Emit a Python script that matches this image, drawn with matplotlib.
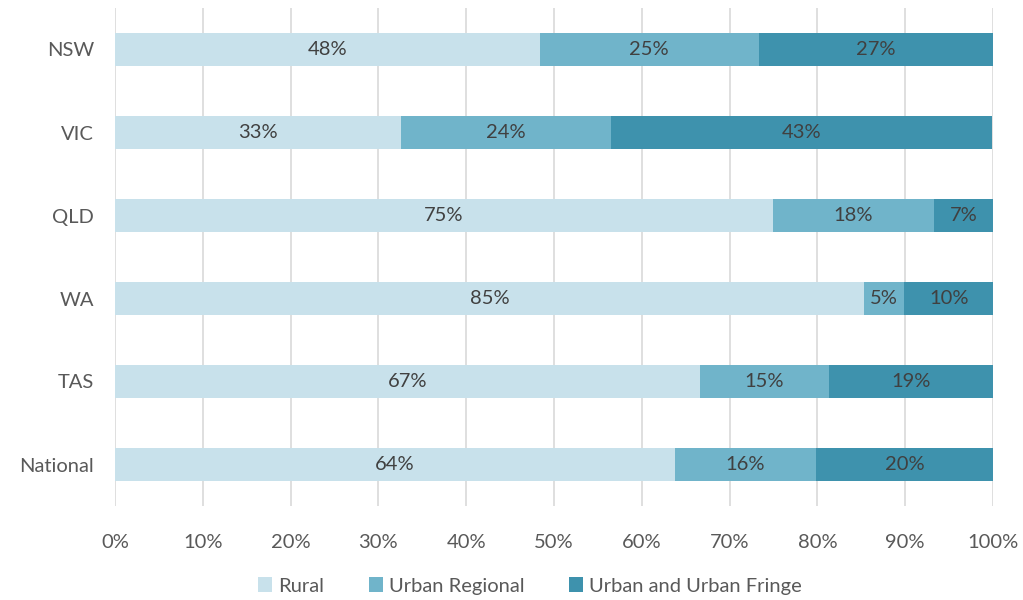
import matplotlib
matplotlib.use("Agg")
import matplotlib.pyplot as plt
from matplotlib.patches import Patch

plt.rcParams['font.family'] = ['Lato', 'DejaVu Sans']

regions = ["NSW", "VIC", "QLD", "WA", "TAS", "National"]
rural = [48.4, 32.6, 74.9, 85.3, 66.6, 63.8]
urban_regional = [24.9, 23.9, 18.4, 4.6, 14.7, 16.0]
urban_fringe = [26.7, 43.4, 6.7, 10.1, 18.7, 20.2]
series_names = ["Rural", "Urban Regional", "Urban and Urban Fringe"]
xtick_vals = [0, 10, 20, 30, 40, 50, 60, 70, 80, 90, 100]

colors = ["#c8e1eb", "#70b4ca", "#3e92ad"]
text_col = "#404040"
tick_col = "#595959"
fs = 14.5

fig = plt.figure(figsize=(10.23, 6.0), dpi=100)
ax = fig.add_axes([115/1023, 1 - 506/600, (993-115)/1023, 498/600])

ypos = list(range(len(regions)))
left = [0.0] * len(regions)
for vals, col in zip([rural, urban_regional, urban_fringe], colors):
    ax.barh(ypos, vals, left=left, height=0.4, color=col, zorder=3)
    for y, v, l in zip(ypos, vals, left):
        ax.text(l + v / 2, y, f"{round(v)}%", ha="center", va="center",
                fontsize=fs, color=text_col, zorder=4)
    left = [a + b for a, b in zip(left, vals)]

ax.set_xlim(0, 100)
ax.set_ylim(len(regions) - 0.5, -0.5)
ax.set_yticks(ypos)
ax.set_yticklabels(regions, fontsize=fs, color=tick_col)
ax.set_xticks(xtick_vals)
ax.set_xticklabels([f"{v}%" for v in xtick_vals], fontsize=fs, color=tick_col)
ax.tick_params(axis="both", length=0)
ax.tick_params(axis="x", pad=20)
ax.tick_params(axis="y", pad=15)
for s in ax.spines.values():
    s.set_visible(False)
ax.xaxis.grid(True, color="#d9d9d9", linewidth=1.2, zorder=0)
ax.set_axisbelow(True)

handles = [Patch(facecolor=c, edgecolor="none") for c in colors]
fig.legend(handles, series_names, loc="center", bbox_to_anchor=(0.518, 1 - 586/600),
           ncol=3, frameon=False, fontsize=fs, labelcolor=tick_col,
           handlelength=0.7, handleheight=0.7, handletextpad=0.3, columnspacing=2.2)

fig.savefig("out.png", dpi=100, facecolor="white")
